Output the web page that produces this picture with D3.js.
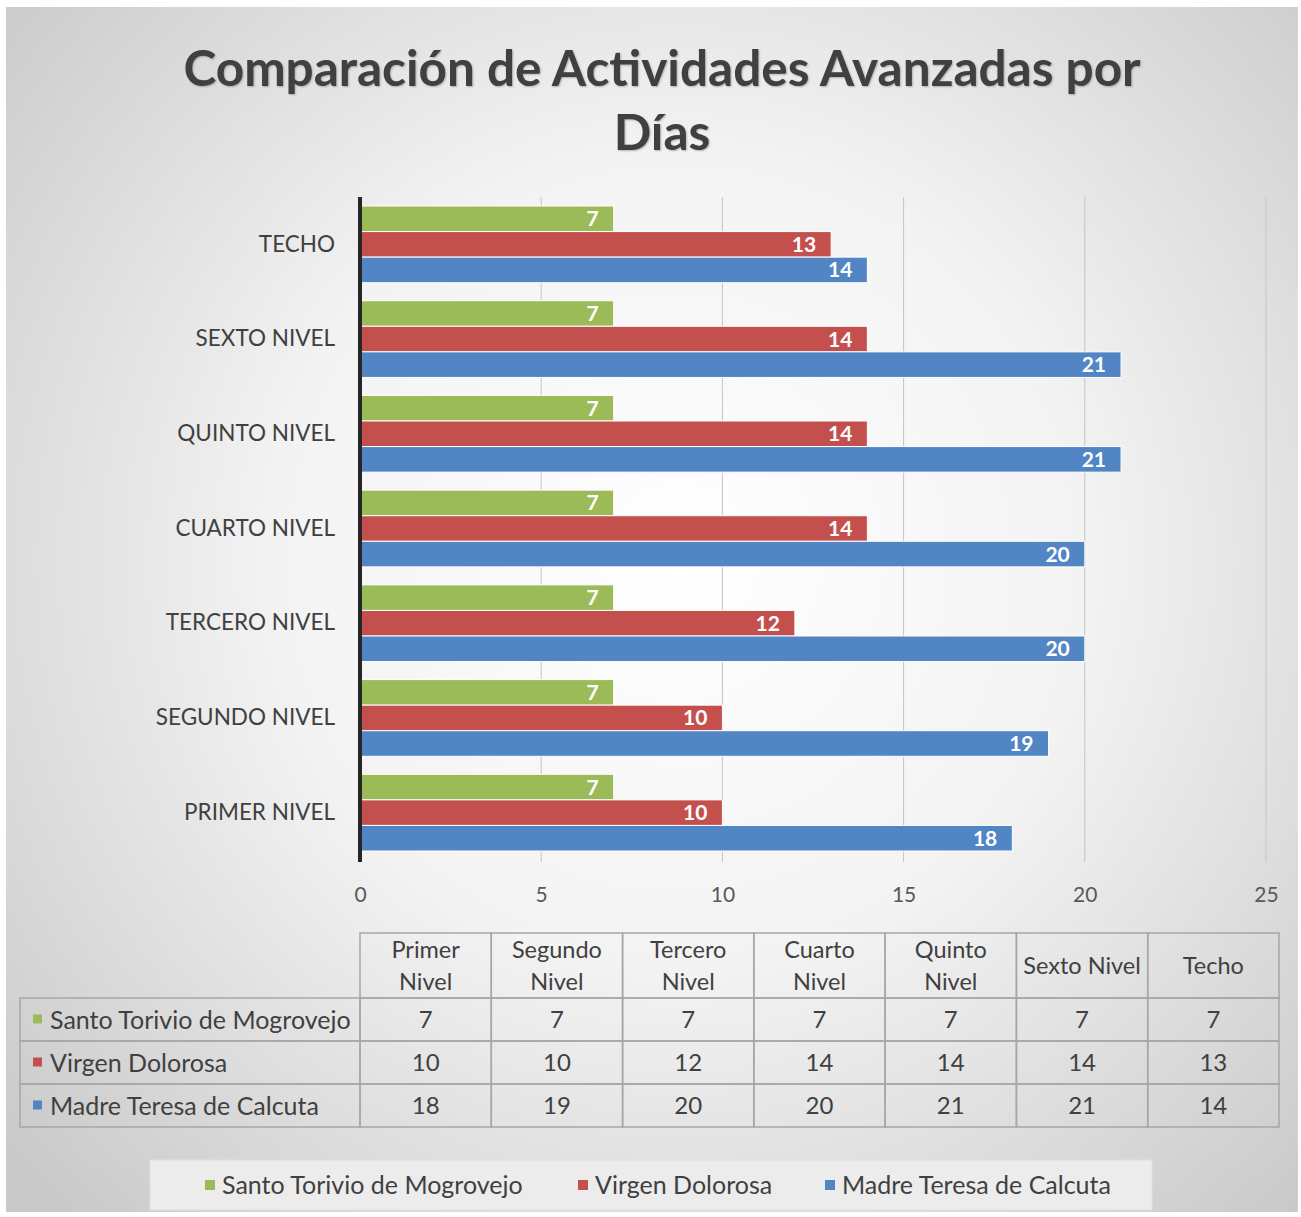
<!DOCTYPE html>
<html>
<head>
<meta charset="utf-8">
<script src="https://cdn.jsdelivr.net/npm/d3@7"></script>
<style>
  body { margin: 0; background: #fff; }
  text { font-family: Lato, "Open Sans", sans-serif; }
</style>
</head>
<body>
<div id="chart"></div>
<script>
// data
var categories = ["Primer Nivel", "Segundo Nivel", "Tercero Nivel", "Cuarto Nivel", "Quinto Nivel", "Sexto Nivel", "Techo"];
var seriesNames = ["Santo Torivio de Mogrovejo", "Virgen Dolorosa", "Madre Teresa de Calcuta"];
var santo = [7, 7, 7, 7, 7, 7, 7];
var virgen = [10, 10, 12, 14, 14, 14, 13];
var madre = [18, 19, 20, 20, 21, 21, 14];
var xTicks = [0, 5, 10, 15, 20, 25];
var colors = ["#9bbb59", "#c4504e", "#5185c4"];
var titleLines = ["Comparación de Actividades Avanzadas por", "Días"];

var values = [santo, virgen, madre];

var W = 1301, H = 1217;
var svg = d3.select("#chart").append("svg")
    .attr("width", W)
    .attr("height", H);

var defs = svg.append("defs");
var bg = defs.append("radialGradient")
    .attr("id", "bg")
    .attr("gradientUnits", "userSpaceOnUse")
    .attr("cx", 680).attr("cy", 560).attr("r", 900);
bg.append("stop").attr("offset", "0%").attr("stop-color", "#ffffff");
bg.append("stop").attr("offset", "45%").attr("stop-color", "#f3f3f3");
bg.append("stop").attr("offset", "100%").attr("stop-color", "#c9c9c9");

svg.append("rect")
    .attr("x", 6).attr("y", 7)
    .attr("width", 1292).attr("height", 1205)
    .style("fill", "url(#bg)");

// title
svg.append("g").selectAll("text")
    .data(titleLines)
    .enter().append("text")
    .attr("x", 662)
    .attr("y", function(d, i){ return 86 + i * 64; })
    .attr("text-anchor", "middle")
    .attr("font-size", "49.5px")
    .attr("font-weight", "bold")
    .attr("fill", "#404040")
    .style("text-shadow", "1px 1px 2px rgba(0,0,0,0.25)")
    .text(function(d){ return d; });

// scales
var x = d3.scaleLinear()
    .domain([0, 25])
    .range([360, 1266]);

var y = d3.scaleBand()
    .domain(categories.slice().reverse())
    .range([197, 860])
    .paddingInner(0.19)
    .paddingOuter(0.095);

var ySub = d3.scaleBand()
    .domain(d3.range(seriesNames.length))
    .range([0, y.bandwidth()]);

// gridlines
svg.append("g").selectAll("line")
    .data(xTicks.filter(function(d){ return d > 0; }))
    .enter().append("line")
    .attr("x1", function(d){ return x(d); })
    .attr("x2", function(d){ return x(d); })
    .attr("y1", 197)
    .attr("y2", 862)
    .attr("stroke", "#c4c4c4")
    .attr("stroke-width", 1);

// x tick labels
var xAxis = d3.axisBottom(x).tickValues(xTicks).tickSize(0).tickPadding(25);
var gx = svg.append("g")
    .attr("transform", "translate(0,862)")
    .call(xAxis);
gx.select(".domain").remove();
gx.selectAll("text")
    .attr("font-size", "21px")
    .attr("fill", "#595959")
    .style("font-family", "Lato, 'Open Sans', sans-serif");

// bars
var rows = [];
categories.forEach(function(c, ci){
    values.forEach(function(s, si){
        rows.push({cat: c, s: si, v: s[ci]});
    });
});

var barG = svg.append("g");
barG.selectAll("rect")
    .data(rows)
    .enter().append("rect")
    .attr("x", x(0))
    .attr("y", function(d){ return y(d.cat) + ySub(d.s); })
    .attr("width", function(d){ return x(d.v) - x(0); })
    .attr("height", ySub.bandwidth())
    .attr("fill", function(d){ return colors[d.s]; })
    .attr("stroke", "#ffffff")
    .attr("stroke-width", 1);

barG.selectAll("text")
    .data(rows)
    .enter().append("text")
    .attr("x", function(d){ return x(d.v) - 15; })
    .attr("y", function(d){ return y(d.cat) + ySub(d.s) + ySub.bandwidth() / 2; })
    .attr("dy", "0.36em")
    .attr("text-anchor", "end")
    .attr("font-size", "21px")
    .attr("font-weight", "bold")
    .attr("fill", "#ffffff")
    .text(function(d){ return d.v; });

// category axis
var yAxis = d3.axisLeft(y).tickSize(0).tickPadding(25)
    .tickFormat(function(d){ return d.toUpperCase(); });
var gy = svg.append("g")
    .attr("transform", "translate(360,0)")
    .call(yAxis);
gy.select(".domain").remove();
gy.selectAll("text")
    .attr("font-size", "22.5px")
    .attr("fill", "#404040")
    .style("font-family", "Lato, 'Open Sans', sans-serif");

svg.append("line")
    .attr("x1", x(0)).attr("x2", x(0))
    .attr("y1", 197).attr("y2", 862)
    .attr("stroke", "#262626")
    .attr("stroke-width", 4);

// data table
var tableLeft = 20, tableRight = 1279;
var colX = d3.scaleBand()
    .domain(categories)
    .range([360, tableRight]);
var headTop = 933, headBottom = 998, rowH = 43;
var rowY = d3.scaleBand()
    .domain(d3.range(seriesNames.length))
    .range([headBottom, headBottom + rowH * seriesNames.length]);

var tbl = svg.append("g");
var lineColor = "#a6a6a6";

// header cells
tbl.selectAll("rect.head")
    .data(categories)
    .enter().append("rect")
    .attr("class", "head")
    .attr("x", function(d){ return colX(d); })
    .attr("y", headTop)
    .attr("width", colX.bandwidth())
    .attr("height", headBottom - headTop)
    .attr("fill", "none")
    .attr("stroke", lineColor)
    .attr("stroke-width", 1.5);

// body cells
seriesNames.forEach(function(name, si){
    tbl.append("rect")
        .attr("x", tableLeft)
        .attr("y", rowY(si))
        .attr("width", 360 - tableLeft)
        .attr("height", rowY.bandwidth())
        .attr("fill", "none")
        .attr("stroke", lineColor)
        .attr("stroke-width", 1.5);
    categories.forEach(function(c){
        tbl.append("rect")
            .attr("x", colX(c))
            .attr("y", rowY(si))
            .attr("width", colX.bandwidth())
            .attr("height", rowY.bandwidth())
            .attr("fill", "none")
            .attr("stroke", lineColor)
            .attr("stroke-width", 1.5);
    });
});

// header text
var headText = tbl.selectAll("text.head")
    .data(categories)
    .enter().append("text")
    .attr("class", "head")
    .attr("text-anchor", "middle")
    .attr("font-size", "23.5px")
    .attr("fill", "#404040");
headText.each(function(d){
    var lines = d.length > 11 ? d.split(" ") : [d];
    var cx = colX(d) + colX.bandwidth() / 2;
    var mid = (headTop + headBottom) / 2;
    var t = d3.select(this);
    lines.forEach(function(l, i){
        t.append("tspan")
            .attr("x", cx)
            .attr("y", mid + (i - (lines.length - 1) / 2) * 32)
            .attr("dy", "0.36em")
            .text(l);
    });
});

// row labels with legend keys
seriesNames.forEach(function(name, si){
    var cy = rowY(si) + rowY.bandwidth() / 2;
    tbl.append("rect")
        .attr("x", 33).attr("y", cy - 5)
        .attr("width", 9).attr("height", 9)
        .attr("fill", colors[si]);
    tbl.append("text")
        .attr("x", 50).attr("y", cy)
        .attr("dy", "0.36em")
        .attr("font-size", "25px")
        .attr("fill", "#404040")
        .text(name);
    categories.forEach(function(c, ci){
        tbl.append("text")
            .attr("x", colX(c) + colX.bandwidth() / 2)
            .attr("y", cy)
            .attr("dy", "0.36em")
            .attr("text-anchor", "middle")
            .attr("font-size", "24px")
            .attr("fill", "#404040")
            .text(values[si][ci]);
    });
});

// legend
var leg = svg.append("g");
leg.append("rect")
    .attr("x", 150).attr("y", 1160)
    .attr("width", 1002).attr("height", 50)
    .attr("fill", "#ececec")
    .attr("stroke", "#e0e0e0");

var legX = [205, 578, 825];
seriesNames.forEach(function(name, si){
    leg.append("rect")
        .attr("x", legX[si]).attr("y", 1180)
        .attr("width", 10).attr("height", 10)
        .attr("fill", colors[si]);
    leg.append("text")
        .attr("x", legX[si] + 17).attr("y", 1185)
        .attr("dy", "0.36em")
        .attr("font-size", "25px")
        .attr("fill", "#404040")
        .text(name);
});
</script>
</body>
</html>
